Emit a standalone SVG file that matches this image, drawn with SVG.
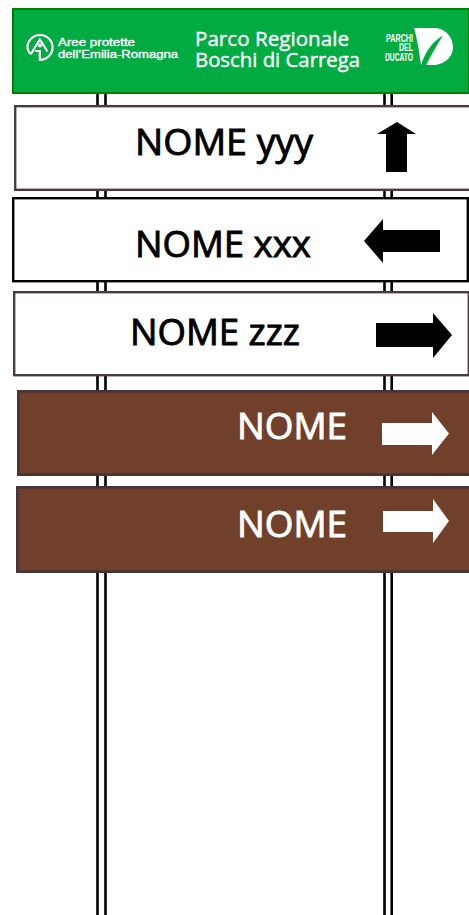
<svg xmlns="http://www.w3.org/2000/svg" width="469" height="915" viewBox="0 0 469 915">
<style>
.post{fill:none;stroke:#000;stroke-width:2.6}
.white{fill:#fff;stroke:#4a3a42;stroke-width:2.4}
.brown{fill:#70402a;stroke:#4a343a;stroke-width:2.8}
.t{font-family:"Open Sans","Noto Sans",sans-serif;font-size:36px;stroke-width:.9px}
.k{fill:#000;stroke:none}.w{fill:#fff}
.tk{fill:#000;stroke:#000}.tw{fill:#fff;stroke:#fff}
.h{font-family:"Open Sans","Noto Sans",sans-serif;font-size:20.500px;fill:#fff;stroke:#fff;stroke-width:.4px}
.a{font-family:"Liberation Sans",Arial,sans-serif;font-size:11px;fill:#fff;stroke:#fff;stroke-width:.35px}
.p{font-family:"Liberation Sans",Arial,sans-serif;font-size:11.500px;font-weight:bold;fill:#fff}
</style>
<rect width="469" height="915" fill="#fff"/>
<g id="posts">
<path class="post" d="M97.500 90V915M105.500 90V915M384.500 90V915M391.700 90V915"/>
</g>
<g id="header">
<rect x="13" y="9" width="456" height="84" fill="#00ac41" stroke="#008000" stroke-width="2"/>
<path d="M31 54L39.800 39.500L47.500 51.500M35 51H39.800V59.800C46 60 52 55 52.500 49C53.500 41 47 35 40 35C33 35 27.500 41 27.500 47C27.500 50 29 52.500 31 54" fill="none" stroke="#fff" stroke-width="2.200"/>
<circle cx="40" cy="45.500" r="1.900" fill="#fff"/>
<text class="a" x="58" y="46" textLength="77" lengthAdjust="spacingAndGlyphs">Aree protette</text>
<text class="a" x="58" y="57.500" textLength="120" lengthAdjust="spacingAndGlyphs">dell’Emilia-Romagna</text>
<text class="h" x="195" y="46" textLength="154" lengthAdjust="spacingAndGlyphs">Parco Regionale</text>
<text class="h" x="195" y="66.500" textLength="165" lengthAdjust="spacingAndGlyphs">Boschi di Carrega</text>
<path d="M414 28H434C446 28 453 38 453 47C453 58 443 65 433 65H421C419 50 417 38 414 28Z" fill="#fff"/>
<path d="M421 65.500C425 52 432 42 443 35.500C437 45 431 55 426 65.500Z" fill="#00ac41"/>
<text class="p" x="386" y="42" textLength="27" lengthAdjust="spacingAndGlyphs">PARCHI</text>
<text class="p" x="399" y="51" textLength="14" lengthAdjust="spacingAndGlyphs">DEL</text>
<text class="p" x="385" y="60.500" textLength="28" lengthAdjust="spacingAndGlyphs">DUCATO</text>
</g>
<g id="sign-yyy">
<rect class="white" x="15.200" y="106.200" width="455" height="83.600"/>
<text class="t tk" x="135" y="155" textLength="178" lengthAdjust="spacingAndGlyphs">NOME yyy</text>
<polygon class="k" points="397,122 416,134 407,134 407,172 386,172 386,134 377,134"/>
</g>
<g id="sign-xxx">
<rect x="13.200" y="198.200" width="454.600" height="83" fill="#fff" stroke="#000" stroke-width="2.400"/>
<text class="t tk" x="135" y="257" textLength="176" lengthAdjust="spacingAndGlyphs">NOME xxx</text>
<polygon class="k" points="364,241 383,219 383,230 440,230 440,252 383,252 383,263"/>
</g>
<g id="sign-zzz">
<rect class="white" x="14.200" y="292.200" width="454.600" height="83"/>
<text class="t tk" x="130" y="345" textLength="170" lengthAdjust="spacingAndGlyphs">NOME zzz</text>
<polygon class="k" points="376,323 433,323 433,313 452,335 433,358 433,347 376,347"/>
</g>
<g id="sign-brown-1">
<rect class="brown" x="18.400" y="391.400" width="452" height="83.200"/>
<text class="t tw" x="237" y="439" textLength="110" lengthAdjust="spacingAndGlyphs">NOME</text>
<polygon class="w" points="382,423 432,423 432,412 449,433.500 432,455 432,445 382,445"/>
</g>
<g id="sign-brown-2">
<rect class="brown" x="17.400" y="487.400" width="453" height="84.200"/>
<text class="t tw" x="237" y="537" textLength="110" lengthAdjust="spacingAndGlyphs">NOME</text>
<polygon class="w" points="383,511 433,511 433,499 449,521 433,543 433,532 383,532"/>
</g>
</svg>
